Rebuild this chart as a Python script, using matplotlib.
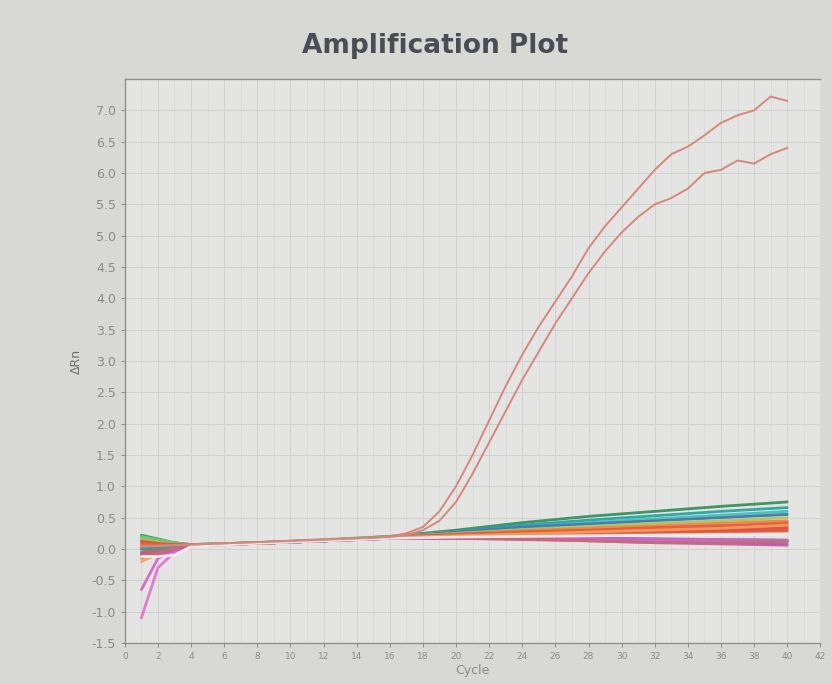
import matplotlib
matplotlib.use("Agg")
import matplotlib.pyplot as plt
import numpy as np

# ---- data -------------------------------------------------------------
cycles_full = list(range(1, 41))
amp_upper = [0.05, 0.05, 0.06, 0.07, 0.08, 0.09, 0.10, 0.11, 0.12, 0.13,
             0.14, 0.15, 0.16, 0.17, 0.18, 0.20, 0.25, 0.35, 0.60, 1.00,
             1.50, 2.05, 2.60, 3.10, 3.55, 3.95, 4.35, 4.80, 5.15, 5.45,
             5.75, 6.05, 6.30, 6.42, 6.60, 6.80, 6.92, 7.00, 7.22, 7.15]
amp_lower = [0.04, 0.05, 0.06, 0.07, 0.08, 0.09, 0.10, 0.11, 0.12, 0.13,
             0.14, 0.15, 0.16, 0.17, 0.18, 0.19, 0.22, 0.30, 0.45, 0.75,
             1.20, 1.70, 2.20, 2.70, 3.15, 3.60, 4.00, 4.40, 4.75, 5.05,
             5.30, 5.50, 5.60, 5.75, 6.00, 6.05, 6.20, 6.15, 6.30, 6.40]

cycles_bg = [1, 2, 3, 4, 8, 12, 16, 20, 24, 28, 32, 36, 40]
bg_colors = ["#2e8b57", "#20a0a0", "#30c0c8", "#6ccf6c", "#4a6fc0",
             "#a8c850", "#f08040", "#e05040", "#e05040", "#e04a3a",
             "#e05040", "#e05545", "#e8603c", "#e8806a", "#f0a060",
             "#60b0e0", "#2aa198", "#9060c0", "#e070d0", "#d060c8",
             "#c85a9a", "#c07070", "#f4f4f4"]
bg_values = [
    [0.22, 0.16, 0.10, 0.07, 0.10, 0.14, 0.20, 0.30, 0.42, 0.52, 0.60, 0.68, 0.75],
    [0.20, 0.14, 0.09, 0.07, 0.10, 0.14, 0.20, 0.28, 0.38, 0.46, 0.53, 0.60, 0.66],
    [0.18, 0.13, 0.09, 0.06, 0.10, 0.14, 0.19, 0.27, 0.35, 0.42, 0.48, 0.54, 0.60],
    [0.20, 0.15, 0.10, 0.07, 0.10, 0.15, 0.20, 0.27, 0.33, 0.40, 0.46, 0.51, 0.56],
    [0.15, 0.12, 0.08, 0.06, 0.09, 0.13, 0.19, 0.27, 0.35, 0.40, 0.45, 0.50, 0.55],
    [0.16, 0.12, 0.08, 0.06, 0.09, 0.13, 0.19, 0.25, 0.31, 0.36, 0.41, 0.45, 0.50],
    [0.10, 0.08, 0.07, 0.06, 0.09, 0.13, 0.19, 0.24, 0.29, 0.33, 0.37, 0.41, 0.45],
    [0.12, 0.09, 0.07, 0.06, 0.09, 0.13, 0.19, 0.23, 0.27, 0.30, 0.34, 0.37, 0.40],
    [0.05, 0.05, 0.06, 0.06, 0.09, 0.13, 0.18, 0.22, 0.25, 0.28, 0.31, 0.34, 0.37],
    [0.00, 0.03, 0.05, 0.06, 0.09, 0.13, 0.18, 0.21, 0.24, 0.26, 0.29, 0.31, 0.34],
    [-0.05, 0.01, 0.04, 0.06, 0.09, 0.13, 0.18, 0.21, 0.23, 0.25, 0.27, 0.29, 0.31],
    [-0.10, -0.02, 0.03, 0.06, 0.09, 0.13, 0.18, 0.20, 0.22, 0.24, 0.25, 0.27, 0.29],
    [0.08, 0.07, 0.06, 0.06, 0.09, 0.13, 0.18, 0.22, 0.26, 0.29, 0.33, 0.36, 0.42],
    [-0.15, -0.05, 0.02, 0.05, 0.09, 0.13, 0.18, 0.20, 0.21, 0.22, 0.23, 0.24, 0.25],
    [-0.20, -0.08, 0.01, 0.05, 0.09, 0.13, 0.18, 0.21, 0.24, 0.27, 0.30, 0.33, 0.38],
    [0.02, 0.03, 0.05, 0.06, 0.09, 0.13, 0.17, 0.18, 0.17, 0.16, 0.15, 0.14, 0.12],
    [0.00, 0.02, 0.04, 0.06, 0.09, 0.13, 0.17, 0.19, 0.19, 0.18, 0.16, 0.15, 0.14],
    [-0.08, -0.05, 0.03, 0.06, 0.09, 0.13, 0.17, 0.17, 0.16, 0.14, 0.12, 0.10, 0.08],
    [-1.10, -0.30, -0.05, 0.05, 0.09, 0.13, 0.17, 0.18, 0.17, 0.16, 0.15, 0.14, 0.13],
    [-0.65, -0.15, -0.02, 0.05, 0.09, 0.13, 0.17, 0.18, 0.18, 0.17, 0.16, 0.15, 0.14],
    [-0.10, -0.10, 0.00, 0.05, 0.09, 0.13, 0.17, 0.17, 0.15, 0.13, 0.10, 0.08, 0.06],
    [-0.10, -0.06, 0.02, 0.06, 0.09, 0.13, 0.17, 0.18, 0.16, 0.13, 0.10, 0.10, 0.12],
    [-0.12, -0.12, -0.10, 0.04, 0.09, 0.13, 0.17, 0.19, 0.20, 0.21, 0.22, 0.23, 0.24],
]

x_ticks = list(range(0, 43, 2))
y_ticks = [-1.5, -1.0, -0.5, 0.0, 0.5, 1.0, 1.5, 2.0, 2.5, 3.0, 3.5,
           4.0, 4.5, 5.0, 5.5, 6.0, 6.5, 7.0]

# ---- figure -----------------------------------------------------------
fig = plt.figure(figsize=(8.32, 6.84), dpi=100)
fig.patch.set_facecolor("#d8d9d5")
ax = fig.add_axes([0.150, 0.060, 0.836, 0.8245])
ax.set_facecolor("#e4e5e2")

for vals, col in zip(bg_values, bg_colors):
    ax.plot(cycles_bg, vals, color=col, lw=2.0, alpha=0.9, solid_capstyle="round")

amp_col = "#d6877d"
ax.plot(cycles_full, amp_upper, color=amp_col, lw=1.4)
ax.plot(cycles_full, amp_lower, color=amp_col, lw=1.4)

ax.set_xlim(0, 42)
ax.set_ylim(-1.5, 7.5)
ax.set_xticks(x_ticks)
ax.set_xticklabels([str(t) for t in x_ticks], fontsize=6.5, color="#8a8a8a")
ax.set_yticks(y_ticks)
ax.set_yticklabels([f"{t:.1f}" for t in y_ticks], fontsize=9, color="#6e6e6e")
ax.set_xticks(range(0, 43), minor=True)
ax.grid(True, which="major", color="#d0d2d0", lw=0.7)
ax.grid(True, which="minor", axis="x", color="#d6d8d6", lw=0.5)
ax.set_axisbelow(True)
ax.tick_params(axis="both", colors="#8a8a8a", length=3, width=0.7)
ax.tick_params(which="minor", length=0)
for s in ["left", "bottom", "top"]:
    ax.spines[s].set_color("#8f8f8f")
    ax.spines[s].set_linewidth(1.0)
ax.spines["right"].set_visible(False)

ax.set_xlabel("Cycle", fontsize=9, color="#8a8a8a", labelpad=2)
ax.set_ylabel("ΔRn", fontsize=9, color="#6e6e6e", labelpad=6)

fig.text(0.523, 0.933, "Amplification Plot", ha="center", va="center",
         fontsize=19, fontweight="bold", color="#4a4d55")

fig.savefig("out.png", dpi=100, facecolor=fig.get_facecolor())
